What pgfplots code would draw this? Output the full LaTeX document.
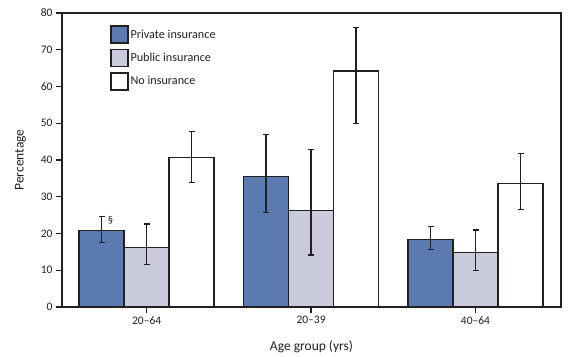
\documentclass[border=0pt]{standalone}
\usepackage{pgfplots}
\pgfplotsset{compat=1.18}
\usepackage{pgfplotstable}
\usepackage{fontspec}
\setmainfont{Carlito}
\definecolor{inkc}{HTML}{231F20}
\definecolor{privc}{HTML}{5B7BB0}
\definecolor{pubc}{HTML}{C9CADB}
\pgfplotstableread{
x y ep em
0 20.8 3.9 3.2
1 35.5 11.4 9.8
2 18.3 3.6 2.7
}\privtab
\pgfplotstableread{
x y ep em
0 16.2 6.4 4.7
1 26.2 16.6 12.0
2 14.9 6.1 4.9
}\pubtab
\pgfplotstableread{
x y ep em
0 40.6 7.2 6.7
1 64.2 11.9 14.3
2 33.6 8.2 7.1
}\notab
\pgfplotsset{myerr/.style={
  error bars/.cd, y dir=both, y explicit,
  error bar style={line width=1.4pt, inkc},
  error mark options={rotate=90, mark size=3pt, line width=1.4pt, inkc}}}
\begin{document}
\begin{tikzpicture}[x=1pt,y=1pt]
\path[use as bounding box] (0,0) rectangle (578,356);
\begin{axis}[
  at={(62pt,49pt)}, anchor=south west,
  scale only axis, width=499pt, height=294pt,
  ybar=0pt, bar width=45pt,
  xmin=-0.515, xmax=2.52, ymin=0, ymax=80,
  xtick={0,1,2}, xticklabels={20--64,20--39,40--64},
  ytick={0,10,...,80},
  tick align=outside, major tick length=6pt,
  xtick pos=bottom, ytick pos=left,
  axis line style={inkc, line width=1.4pt},
  every tick/.style={inkc, line width=1.4pt},
  tick label style={font=\fontsize{11.5}{13}\selectfont, text=inkc},
  /pgf/number format/assume math mode=true,
  xlabel={Age group (yrs)}, ylabel={Percentage},
  label style={font=\fontsize{13.5}{15}\selectfont, text=inkc},
  xlabel style={yshift=-9pt},
  ylabel style={yshift=8pt},
  legend style={at={(0.09,0.965)}, anchor=north west, draw=none, fill=none,
    font=\fontsize{12.2}{14}\selectfont, text=inkc, row sep=5pt,
    /tikz/every even column/.append style={column sep=6pt}},
  legend image code/.code={\draw[#1, line width=1.4pt] (0pt,-8.5pt) rectangle (17pt,8.5pt);},
  legend cell align=left,
]
\addplot[fill=privc, draw=inkc, line width=1.4pt, myerr] table[x=x,y=y,y error plus=ep,y error minus=em]{\privtab};
\addplot[fill=pubc, draw=inkc, line width=1.4pt, myerr] table[x=x,y=y,y error plus=ep,y error minus=em]{\pubtab};
\addplot[fill=white, draw=inkc, line width=1.4pt, myerr] table[x=x,y=y,y error plus=ep,y error minus=em]{\notab};
\legend{Private insurance, Public insurance, No insurance}
\node[anchor=west, inner sep=0pt, font=\fontsize{10.5}{12}\selectfont, text=inkc] at ([xshift=-39pt]axis cs:0,23.6) {\S};
\end{axis}
\end{tikzpicture}
\end{document}
